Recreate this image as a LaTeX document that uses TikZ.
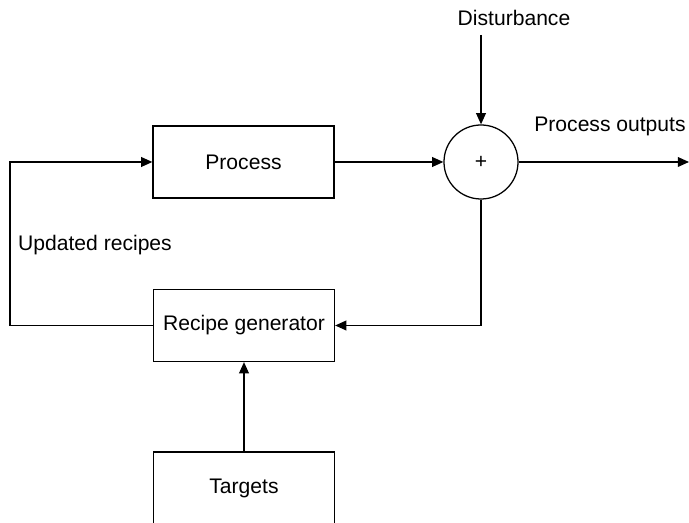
\documentclass[tikz,border=0pt]{standalone}
\usepackage{fontspec}
\setmainfont{Liberation Sans}
\usetikzlibrary{arrows.meta}
\begin{document}
\begin{tikzpicture}[x=0.025cm, y=0.025cm,
        font=\fontsize{15}{18}\selectfont,
        line width=0.9pt,
        >={Triangle[length=8pt,width=7pt]},
        block/.style={draw, line width=0.9pt, minimum width=4.525cm, minimum height=1.8cm},
        sumnode/.style={draw, circle, line width=0.9pt, minimum size=1.85cm, inner sep=0pt}]
        \useasboundingbox (0, 0) rectangle (689, 523);

        \node[block] (process) at (243.5, 361) {Process};
        \node[block] (generator) at (244, 197.5) {Recipe generator};
        \node[block] (targets) at (244, 35) {Targets};
        \node[sumnode] (sum) at (481, 361) {+};

        \node (disturbance) at (514, 505) {Disturbance};
        \node (outputs) at (610, 397) {Process outputs};
        \node (updated) at (95, 278) {Updated recipes};

        \coordinate (dtop) at (481, 488);
        \coordinate (outend) at (689, 361);
        \coordinate (lowleft) at (10, 197.5);
        \coordinate (upleft) at (10, 361);

        \draw[->] (process) -- (sum);
        \draw[->] (dtop) -- (sum);
        \draw[->] (sum) -- (outend);
        \draw[->] (sum.south) |- (generator.east);
        \draw[->] (targets) -- (generator);
        \draw[->] (generator.west) -- (lowleft) -- (upleft) -- (process.west);
    \end{tikzpicture}
\end{document}
